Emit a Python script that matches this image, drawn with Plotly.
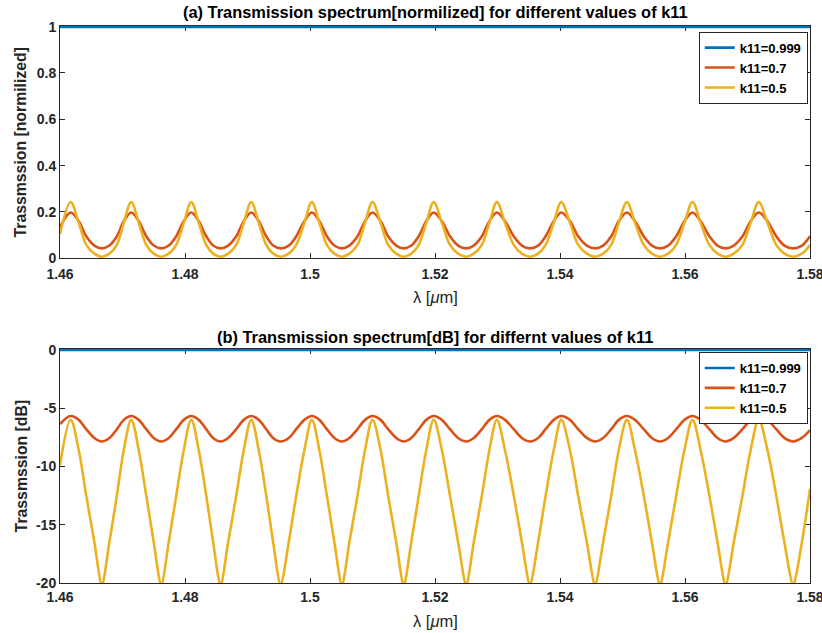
import plotly.graph_objects as go

# ---------------- data ----------------
series_names = ["k11=0.999", "k11=0.7", "k11=0.5"]

# wavelength samples (um); each row: peak, 1/4, 1/2, 3/4, trough, 3/4, 1/2, 1/4
lam = [1.4600,
       1.4617, 1.4630, 1.4642, 1.4655, 1.4667, 1.4679, 1.4691, 1.4702,
       1.4714, 1.4726, 1.4738, 1.4750, 1.4762, 1.4774, 1.4786, 1.4798,
       1.4810, 1.4822, 1.4834, 1.4845, 1.4857, 1.4869, 1.4882, 1.4894,
       1.4906, 1.4918, 1.4930, 1.4941, 1.4953, 1.4966, 1.4978, 1.4991,
       1.5003, 1.5015, 1.5027, 1.5039, 1.5051, 1.5063, 1.5076, 1.5088,
       1.5100, 1.5113, 1.5125, 1.5138, 1.5150, 1.5162, 1.5174, 1.5186,
       1.5198, 1.5211, 1.5224, 1.5237, 1.5250, 1.5262, 1.5275, 1.5287,
       1.5299, 1.5312, 1.5326, 1.5339, 1.5352, 1.5365, 1.5377, 1.5390,
       1.5402, 1.5416, 1.5429, 1.5443, 1.5456, 1.5469, 1.5482, 1.5494,
       1.5507, 1.5520, 1.5534, 1.5547, 1.5560, 1.5573, 1.5586, 1.5599,
       1.5612, 1.5625, 1.5639, 1.5652, 1.5665, 1.5678, 1.5692, 1.5705,
       1.5718, 1.5732, 1.5746, 1.5759, 1.5773, 1.5787, 1.5800]
lam_flat = [1.46, 1.58]

# samples for the dB curve of k11=0.5 (each clipped dip sampled just either side)
lam_db05 = [1.4600,
            1.4617, 1.4630, 1.4642, 1.4655, 1.46665, 1.46675, 1.4679, 1.4691, 1.4702,
            1.4714, 1.4726, 1.4738, 1.4750, 1.47615, 1.47625, 1.4774, 1.4786, 1.4798,
            1.4810, 1.4822, 1.4834, 1.4845, 1.48565, 1.48575, 1.4869, 1.4882, 1.4894,
            1.4906, 1.4918, 1.4930, 1.4941, 1.49525, 1.49535, 1.4966, 1.4978, 1.4991,
            1.5003, 1.5015, 1.5027, 1.5039, 1.50505, 1.50515, 1.5063, 1.5076, 1.5088,
            1.5100, 1.5113, 1.5125, 1.5138, 1.51495, 1.51505, 1.5162, 1.5174, 1.5186,
            1.5198, 1.5211, 1.5224, 1.5237, 1.52495, 1.52505, 1.5262, 1.5275, 1.5287,
            1.5299, 1.5312, 1.5326, 1.5339, 1.53515, 1.53525, 1.5365, 1.5377, 1.5390,
            1.5402, 1.5416, 1.5429, 1.5443, 1.54555, 1.54565, 1.5469, 1.5482, 1.5494,
            1.5507, 1.5520, 1.5534, 1.5547, 1.55595, 1.55605, 1.5573, 1.5586, 1.5599,
            1.5612, 1.5625, 1.5639, 1.5652, 1.56645, 1.56655, 1.5678, 1.5692, 1.5705,
            1.5718, 1.5732, 1.5746, 1.5759, 1.57725, 1.57735, 1.5787, 1.5800]

# (a) normalized transmission
norm_0999 = [0.999, 0.999]
norm_07 = [0.135,
           0.198, 0.160, 0.095, 0.055, 0.043, 0.055, 0.095, 0.160,
           0.198, 0.160, 0.095, 0.055, 0.043, 0.055, 0.095, 0.160,
           0.198, 0.160, 0.095, 0.055, 0.043, 0.055, 0.095, 0.160,
           0.198, 0.160, 0.095, 0.055, 0.043, 0.055, 0.095, 0.160,
           0.198, 0.160, 0.095, 0.055, 0.043, 0.055, 0.095, 0.160,
           0.198, 0.160, 0.095, 0.055, 0.043, 0.055, 0.095, 0.160,
           0.198, 0.160, 0.095, 0.055, 0.043, 0.055, 0.095, 0.160,
           0.198, 0.160, 0.095, 0.055, 0.043, 0.055, 0.095, 0.160,
           0.198, 0.160, 0.095, 0.055, 0.043, 0.055, 0.095, 0.160,
           0.198, 0.160, 0.095, 0.055, 0.043, 0.055, 0.095, 0.160,
           0.198, 0.160, 0.095, 0.055, 0.043, 0.055, 0.095, 0.160,
           0.198, 0.160, 0.095, 0.055, 0.043, 0.055, 0.095]
norm_05 = [0.105,
           0.243, 0.153, 0.058, 0.020, 0.007, 0.020, 0.058, 0.153,
           0.243, 0.153, 0.058, 0.020, 0.007, 0.020, 0.058, 0.153,
           0.243, 0.153, 0.058, 0.020, 0.007, 0.020, 0.058, 0.153,
           0.243, 0.153, 0.058, 0.020, 0.007, 0.020, 0.058, 0.153,
           0.243, 0.153, 0.058, 0.020, 0.007, 0.020, 0.058, 0.153,
           0.243, 0.153, 0.058, 0.020, 0.007, 0.020, 0.058, 0.153,
           0.243, 0.153, 0.058, 0.020, 0.007, 0.020, 0.058, 0.153,
           0.243, 0.153, 0.058, 0.020, 0.007, 0.020, 0.058, 0.153,
           0.243, 0.153, 0.058, 0.020, 0.007, 0.020, 0.058, 0.153,
           0.243, 0.153, 0.058, 0.020, 0.007, 0.020, 0.058, 0.153,
           0.243, 0.153, 0.058, 0.020, 0.007, 0.020, 0.058, 0.153,
           0.243, 0.153, 0.058, 0.020, 0.007, 0.020, 0.057]

# (b) transmission in dB
db_0999 = [-0.004, -0.004]
db_07 = [-6.36,
         -5.67, -6.00, -6.80, -7.55, -7.85, -7.55, -6.80, -6.00,
         -5.67, -6.00, -6.80, -7.55, -7.85, -7.55, -6.80, -6.00,
         -5.67, -6.00, -6.80, -7.55, -7.85, -7.55, -6.80, -6.00,
         -5.67, -6.00, -6.80, -7.55, -7.85, -7.55, -6.80, -6.00,
         -5.67, -6.00, -6.80, -7.55, -7.85, -7.55, -6.80, -6.00,
         -5.67, -6.00, -6.80, -7.55, -7.85, -7.55, -6.80, -6.00,
         -5.67, -6.00, -6.80, -7.55, -7.85, -7.55, -6.80, -6.00,
         -5.67, -6.00, -6.80, -7.55, -7.85, -7.55, -6.80, -6.00,
         -5.67, -6.00, -6.80, -7.55, -7.85, -7.55, -6.80, -6.00,
         -5.67, -6.00, -6.80, -7.55, -7.85, -7.55, -6.80, -6.00,
         -5.67, -6.00, -6.80, -7.55, -7.85, -7.55, -6.80, -6.00,
         -5.67, -6.00, -6.80, -7.55, -7.85, -7.55, -6.88]
db_05 = [-9.88,
         -6.0, -8.6, -12.5, -16.5, -20.2, -20.2, -16.5, -12.5, -8.6,
         -6.0, -8.6, -12.5, -16.5, -20.2, -20.2, -16.5, -12.5, -8.6,
         -6.0, -8.6, -12.5, -16.5, -20.2, -20.2, -16.5, -12.5, -8.6,
         -6.0, -8.6, -12.5, -16.5, -20.2, -20.2, -16.5, -12.5, -8.6,
         -6.0, -8.6, -12.5, -16.5, -20.2, -20.2, -16.5, -12.5, -8.6,
         -6.0, -8.6, -12.5, -16.5, -20.2, -20.2, -16.5, -12.5, -8.6,
         -6.0, -8.6, -12.5, -16.5, -20.2, -20.2, -16.5, -12.5, -8.6,
         -6.0, -8.6, -12.5, -16.5, -20.2, -20.2, -16.5, -12.5, -8.6,
         -6.0, -8.6, -12.5, -16.5, -20.2, -20.2, -16.5, -12.5, -8.6,
         -6.0, -8.6, -12.5, -16.5, -20.2, -20.2, -16.5, -12.5, -8.6,
         -6.0, -8.6, -12.5, -16.5, -20.2, -20.2, -16.5, -12.5, -8.6,
         -6.0, -8.6, -12.5, -16.5, -20.2, -20.2, -16.5, -11.9]

x_ticks = [1.46, 1.48, 1.50, 1.52, 1.54, 1.56, 1.58]
x_ticktext = ["1.46", "1.48", "1.5", "1.52", "1.54", "1.56", "1.58"]
ya_ticks = [0, 0.2, 0.4, 0.6, 0.8, 1]
ya_ticktext = ["0", "0.2", "0.4", "0.6", "0.8", "1"]
yb_ticks = [-20, -15, -10, -5, 0]
yb_ticktext = ["-20", "-15", "-10", "-5", "0"]

# ---------------- styling ----------------
colors = ["#0072BD", "#D95319", "#EDB120"]
LW = 2.6
AX = "#262626"
FONT = "Arial"

fig = go.Figure()

def add(x, y, name, color, xa, ya, legend, smooth=True):
    fig.add_trace(go.Scatter(
        x=x, y=y, name=name, mode="lines", xaxis=xa, yaxis=ya, legend=legend,
        line=dict(color=color, width=LW, shape="spline" if smooth else "linear",
                  smoothing=1.0, simplify=False)))

add(lam_flat, norm_0999, series_names[0], colors[0], "x", "y", "legend", False)
add(lam, norm_07, series_names[1], colors[1], "x", "y", "legend")
add(lam, norm_05, series_names[2], colors[2], "x", "y", "legend")
add(lam_flat, db_0999, series_names[0], colors[0], "x2", "y2", "legend2", False)
add(lam, db_07, series_names[1], colors[1], "x2", "y2", "legend2")
add(lam_db05, db_05, series_names[2], colors[2], "x2", "y2", "legend2")

tickfont = dict(family=FONT, size=14, color=AX, weight="bold")
axis_common = dict(showline=True, linecolor=AX, linewidth=1, mirror="ticks",
                   ticks="inside", ticklen=5, tickcolor=AX, showgrid=False,
                   zeroline=False, tickfont=tickfont, layer="below traces",
                   ticklabeloverflow="allow", automargin=False)

fig.update_layout(
    width=822, height=633,
    margin=dict(l=60, r=12, t=25, b=50, autoexpand=False),
    paper_bgcolor="white", plot_bgcolor="white",
    xaxis=dict(domain=[0, 1], range=[1.46, 1.58], anchor="y",
               tickvals=x_ticks, ticktext=x_ticktext, ticklabelstandoff=3,
               **axis_common),
    yaxis=dict(domain=[0.5819, 0.9991], range=[0, 1.005], anchor="x",
               tickvals=ya_ticks, ticktext=ya_ticktext, **axis_common),
    xaxis2=dict(domain=[0, 1], range=[1.46, 1.58], anchor="y2",
                tickvals=x_ticks, ticktext=x_ticktext, ticklabelstandoff=1,
                **axis_common),
    yaxis2=dict(domain=[0, 0.4197], range=[-20, 0.1], anchor="x2",
                tickvals=yb_ticks, ticktext=yb_ticktext, **axis_common),
    legend=dict(x=0.997, y=0.988, xanchor="right", yanchor="top",
                bgcolor="white", bordercolor=AX, borderwidth=1,
                font=dict(family=FONT, size=13, color="black", weight="bold"),
                tracegroupgap=0),
    legend2=dict(x=0.997, y=0.414, xanchor="right", yanchor="top",
                 bgcolor="white", bordercolor=AX, borderwidth=1,
                 font=dict(family=FONT, size=13, color="black", weight="bold"),
                 tracegroupgap=0),
    showlegend=True,
)

title_font = dict(family=FONT, size=16.4, color="black", weight="bold")
label_font = dict(family=FONT, size=16.5, color=AX)
ylabel_font = dict(family=FONT, size=15.8, color=AX, weight="bold")

annotations = [
    dict(text="(a) Transmission spectrum[normilized] for different values of k11",
         x=0.5, y=1.0233, font=title_font),
    dict(text="(b) Transmission spectrum[dB] for differnt values of k11",
         x=0.5, y=0.4409, font=title_font),
    dict(text="λ [<i>μ</i>m]", x=0.5, y=0.5125, font=label_font),
    dict(text="λ [<i>μ</i>m]", x=0.5, y=-0.0681, font=label_font),
    dict(text="Trassmssion [normilized]", x=-0.052, y=0.7894, textangle=-90,
         font=ylabel_font),
    dict(text="Trassmssion [dB]", x=-0.052, y=0.209, textangle=-90,
         font=ylabel_font),
]
for a in annotations:
    fig.add_annotation(xref="paper", yref="paper", showarrow=False,
                       xanchor="center", yanchor="middle", **a)

fig.write_html("out.html",
               config={"displayModeBar": False},
               post_script="document.body.style.margin='0px';"
                           "document.body.style.overflow='hidden';")
